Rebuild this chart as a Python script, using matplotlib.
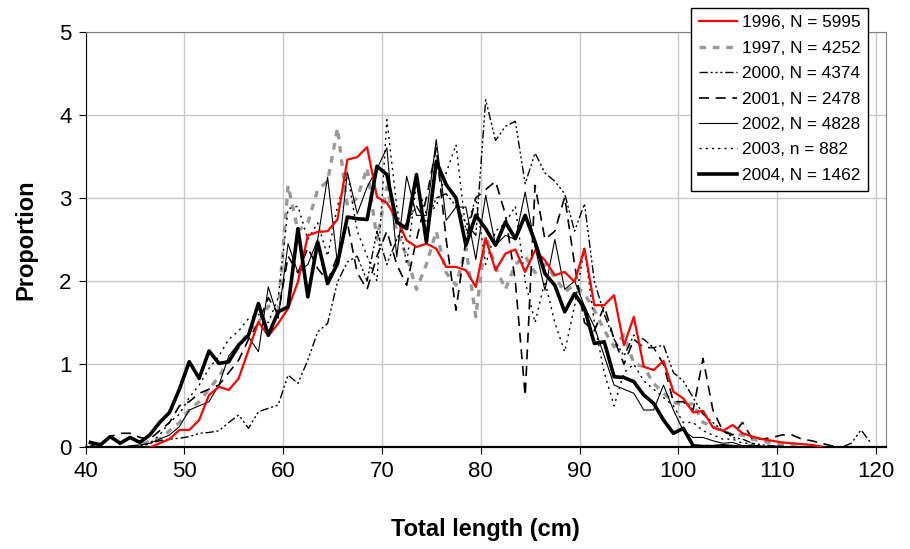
import numpy as np
import matplotlib.pyplot as plt

plt.rcParams['font.family'] = ['Liberation Sans', 'DejaVu Sans']

# length classes (cm), bin midpoints
x1996 = np.arange(46.5, 115.0, 1.0)
y1996 = [0.0, 0.05, 0.10, 0.21, 0.21, 0.33, 0.63, 0.73, 0.69, 0.83, 1.17, 1.51, 1.34, 1.49, 1.67,
         1.99, 2.55, 2.59, 2.60, 2.74, 3.46, 3.49, 3.61, 3.01, 2.94, 2.75, 2.49, 2.41, 2.45, 2.39,
         2.17, 2.17, 2.13, 1.93, 2.51, 2.13, 2.33, 2.38, 2.11, 2.37, 2.25, 2.07, 2.11, 1.99, 2.39,
         1.71, 1.71, 1.83, 1.23, 1.57, 0.97, 0.93, 1.04, 0.67, 0.59, 0.42, 0.44, 0.24, 0.20, 0.27,
         0.17, 0.13, 0.10, 0.08, 0.06, 0.05, 0.04, 0.03, 0.01]

x1997 = np.arange(44.5, 114.0, 1.0)
y1997 = [0.0, 0.02, 0.08, 0.10, 0.20, 0.30, 0.45, 0.55, 0.70, 0.85, 1.05, 1.20, 1.40, 1.50, 1.70,
         1.65, 3.15, 2.60, 2.70, 3.10, 3.20, 3.84, 2.90, 3.00, 3.36, 2.50, 3.13, 2.60, 2.30, 1.90,
         2.20, 2.60, 2.10, 1.95, 2.40, 1.57, 2.55, 2.17, 1.90, 2.20, 2.30, 2.10, 2.20, 2.05, 1.87,
         1.95, 1.85, 1.65, 1.41, 1.21, 1.35, 1.01, 0.97, 0.77, 0.65, 0.55, 0.50, 0.53, 0.30, 0.25,
         0.20, 0.15, 0.15, 0.10, 0.08, 0.05, 0.03, 0.02, 0.0, 0.0]

x2000 = np.arange(44.5, 120.0, 1.0)
y2000 = [0.0, 0.02, 0.05, 0.08, 0.10, 0.11, 0.13, 0.17, 0.18, 0.20, 0.30, 0.39, 0.23, 0.43, 0.47,
         0.51, 0.87, 0.77, 1.05, 1.39, 1.49, 1.99, 2.23, 2.30, 2.00, 2.60, 2.20, 2.50, 2.70, 2.90,
         2.70, 3.00, 3.05, 2.90, 2.70, 2.55, 4.18, 3.69, 3.86, 3.92, 3.17, 3.54, 3.30, 3.20, 3.05,
         2.60, 2.93, 2.00, 1.60, 1.30, 1.10, 1.35, 1.30, 1.20, 1.23, 0.90, 0.80, 0.60, 0.40, 0.30,
         0.20, 0.12, 0.10, 0.05, 0.03, 0.02, 0.0, 0.0, 0.0, 0.0, 0.0, 0.0, 0.0, 0.05, 0.21, 0.05]

x2001 = np.arange(40.5, 117.0, 1.0)
y2001 = [0.02, 0.05, 0.13, 0.17, 0.17, 0.12, 0.10, 0.20, 0.30, 0.50, 0.55, 0.65, 0.70, 0.75, 0.90,
         1.05, 1.30, 1.50, 1.80, 1.60, 2.30, 2.10, 2.40, 2.15, 2.00, 2.30, 2.70, 2.10, 1.90, 2.30,
         2.60, 2.20, 1.95, 2.50, 3.00, 3.60, 2.50, 1.65, 2.50, 3.00, 3.10, 3.20, 2.80, 2.00, 0.62,
         3.15, 2.50, 2.60, 3.01, 2.20, 1.50, 1.40, 1.70, 1.30, 1.00, 1.30, 1.20, 1.20, 1.00, 0.55,
         0.55, 0.45, 1.07, 0.45, 0.20, 0.15, 0.30, 0.10, 0.10, 0.12, 0.15, 0.15, 0.10, 0.08, 0.05,
         0.02, 0.0]

x2002 = np.arange(43.5, 112.0, 1.0)
y2002 = [0.0, 0.02, 0.03, 0.05, 0.10, 0.15, 0.25, 0.45, 0.50, 0.55, 0.75, 1.10, 1.25, 1.33, 1.15,
         1.93, 1.55, 2.45, 2.10, 2.20, 2.50, 3.25, 2.21, 3.31, 2.81, 3.13, 3.35, 3.60, 2.29, 3.26,
         2.79, 2.79, 3.70, 2.73, 2.89, 2.89, 2.26, 3.03, 2.43, 2.55, 2.50, 3.07, 2.41, 1.89, 2.50,
         1.90, 2.00, 1.70, 1.45, 1.10, 0.75, 0.70, 0.65, 0.45, 0.45, 0.75, 0.45, 0.20, 0.12, 0.12,
         0.08, 0.05, 0.06, 0.02, 0.03, 0.01, 0.01, 0.0, 0.0]

x2003 = np.arange(45.5, 109.0, 1.0)
y2003 = [0.0, 0.05, 0.15, 0.30, 0.40, 0.60, 0.75, 0.95, 1.10, 1.30, 1.40, 1.55, 1.60, 1.50, 1.80,
         2.87, 2.90, 2.50, 2.70, 2.30, 2.90, 3.30, 2.60, 2.30, 2.00, 3.94, 2.90, 2.20, 3.20, 2.80,
         2.90, 3.30, 3.64, 2.60, 3.00, 2.20, 2.60, 2.70, 2.90, 2.00, 1.50, 2.00, 1.50, 1.15, 1.70,
         2.40, 1.50, 0.90, 0.50, 0.90, 1.00, 0.80, 0.70, 0.60, 0.50, 0.30, 0.30, 0.20, 0.15, 0.10,
         0.10, 0.05, 0.05, 0.0]

x2004 = np.arange(40.5, 111.0, 1.0)
y2004 = [0.06, 0.03, 0.13, 0.05, 0.12, 0.06, 0.15, 0.30, 0.42, 0.70, 1.03, 0.83, 1.16, 1.01, 1.03,
         1.23, 1.35, 1.73, 1.35, 1.63, 1.69, 2.63, 1.81, 2.47, 1.97, 2.21, 2.77, 2.75, 2.74, 3.38,
         3.28, 2.71, 2.63, 3.28, 2.47, 3.44, 3.16, 3.00, 2.43, 2.79, 2.63, 2.43, 2.71, 2.51, 2.79,
         2.47, 2.09, 1.95, 1.63, 1.85, 1.67, 1.25, 1.27, 0.85, 0.84, 0.79, 0.63, 0.53, 0.33, 0.17,
         0.23, 0.02, 0.01, 0.01, 0.02, 0.01, 0.0, 0.01, 0.0, 0.0, 0.0]

fig = plt.figure(figsize=(9.1, 5.49), dpi=100)
ax = fig.add_axes([0.094, 0.185, 0.8794, 0.7576])

ax.plot(x1996, y1996, color='red', lw=1.6, label='1996, N = 5995', zorder=5)
ax.plot(x1997, y1997, color='#999999', lw=2.4, linestyle=(0, (2, 2)), label='1997, N = 4252')
ax.plot(x2000, y2000, color='black', lw=1.0, linestyle=(0, (6, 2, 1.5, 2, 1.5, 2, 1.5, 2)), label='2000, N = 4374')
ax.plot(x2001, y2001, color='black', lw=1.2, linestyle=(0, (6, 4)), label='2001, N = 2478')
ax.plot(x2002, y2002, color='black', lw=0.8, label='2002, N = 4828')
ax.plot(x2003, y2003, color='black', lw=1.0, linestyle=(0, (1.5, 3)), label='2003, n = 882')
ax.plot(x2004, y2004, color='black', lw=2.6, label='2004, N = 1462', zorder=6)

ax.set_xlim(40, 121)
ax.set_ylim(0, 5)
ax.set_xticks(range(40, 121, 10))
ax.set_yticks(range(0, 6))
ax.grid(True, color='#c8c8c8', lw=1)
ax.set_axisbelow(True)

for side in ['top', 'right']:
    ax.spines[side].set_color('#808080')
for side in ['left', 'bottom']:
    ax.spines[side].set_color('black')
ax.spines['bottom'].set_linewidth(1.6)

ax.tick_params(axis='both', direction='out', length=5, labelsize=16, pad=5)
ax.set_xlabel('Total length (cm)', fontsize=17, fontweight='bold', labelpad=26)
ax.set_ylabel('Proportion', fontsize=17, fontweight='bold', labelpad=16)

leg = fig.legend(loc='upper right', bbox_to_anchor=(0.954, 0.986), fontsize=12.4,
                 handlelength=2.2, labelspacing=0.6, handletextpad=0.3,
                 fancybox=False, framealpha=1, borderpad=0.45, borderaxespad=0)
leg.get_frame().set_edgecolor('black')
leg.get_frame().set_linewidth(1.0)

fig.savefig('out.png', dpi=100)
